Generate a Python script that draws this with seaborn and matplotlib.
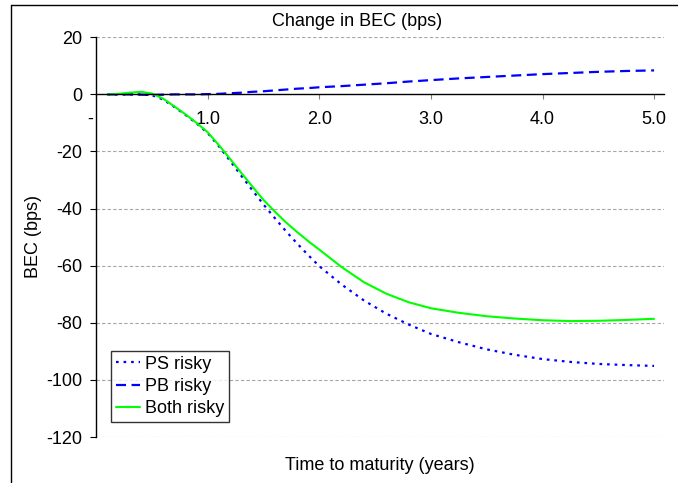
import numpy as np
import pandas as pd
import matplotlib
matplotlib.use("Agg")
import matplotlib.pyplot as plt
from matplotlib.lines import Line2D
import seaborn as sns

# data
maturity = [0.1, 0.2, 0.3, 0.4, 0.5, 0.6, 0.7, 0.8, 0.9, 1.0, 1.1, 1.2, 1.3, 1.4, 1.5,
            1.6, 1.7, 1.8, 1.9, 2.0, 2.2, 2.4, 2.6, 2.8, 3.0, 3.25, 3.5, 3.75, 4.0,
            4.25, 4.5, 4.75, 5.0]
ps_risky = [0.0, 0.0, 0.0, 0.0, -0.3, -1.8, -4.4, -7.2, -10.2, -13.6, -18.2, -23.3,
            -28.5, -33.6, -38.6, -43.3, -47.9, -52.2, -56.3, -60.2, -66.6, -72.2,
            -76.8, -80.6, -83.9, -86.8, -89.3, -91.2, -92.7, -93.7, -94.4, -94.8, -95.1]
pb_risky = [0.0, 0.0, 0.0, -0.1, -0.2, -0.1, 0.0, 0.0, 0.0, 0.1, 0.2, 0.4, 0.6, 0.9,
            1.1, 1.4, 1.7, 2.0, 2.2, 2.5, 2.9, 3.4, 3.9, 4.5, 5.0, 5.6, 6.1, 6.6, 7.1,
            7.5, 7.9, 8.2, 8.4]
both_risky = [0.0, 0.2, 0.6, 0.9, 0.3, -1.5, -4.2, -7.0, -10.0, -13.3, -17.8, -22.6,
              -27.5, -32.3, -37.0, -41.0, -44.8, -48.2, -51.4, -54.4, -60.5, -65.8,
              -69.8, -72.8, -74.9, -76.5, -77.7, -78.5, -79.1, -79.4, -79.3, -79.0, -78.6]

x_ticks = [0, 1, 2, 3, 4, 5]
x_tick_labels = ["-  ", "1.0", "2.0", "3.0", "4.0", "5.0"]
y_ticks = [20, 0, -20, -40, -60, -80, -100, -120]

sns.set_style("white")
plt.rcParams["font.family"] = ["Liberation Sans", "DejaVu Sans"]
plt.rcParams["text.color"] = "black"
plt.rcParams["xtick.color"] = "black"
plt.rcParams["ytick.color"] = "black"
fs = 13

fig = plt.figure(figsize=(6.78, 4.83), dpi=100)
ax = fig.add_axes([0.142, 0.0952, 0.979 - 0.142, 0.9228 - 0.0952])

df = pd.DataFrame({"maturity": maturity, "ps": ps_risky, "pb": pb_risky, "both": both_risky})

sns.lineplot(data=df, x="maturity", y="ps", ax=ax, color="#0000ff", lw=1.6,
             linestyle=(0, (1.2, 2.2)), label="PS risky")
sns.lineplot(data=df, x="maturity", y="pb", ax=ax, color="#0000ff", lw=1.6,
             linestyle=(0, (4.5, 2.5)), label="PB risky")
sns.lineplot(data=df, x="maturity", y="both", ax=ax, color="#00ff00", lw=1.5,
             linestyle="-", label="Both risky")

ax.set_xlim(0, 5.087)
ax.set_ylim(-120, 20)

# horizontal grid
for yv in y_ticks:
    if yv != 0:
        ax.axhline(yv, color="#a6a6a6", lw=0.8, ls=(0, (3, 2)), zorder=0)

ax.spines["top"].set_visible(False)
ax.spines["right"].set_visible(False)
ax.spines["left"].set_color("black")
ax.spines["left"].set_linewidth(1.0)
ax.spines["bottom"].set_position(("data", 0))
ax.spines["bottom"].set_color("black")
ax.spines["bottom"].set_linewidth(1.0)

ax.set_xticks(x_ticks)
ax.set_xticklabels(x_tick_labels)
ax.set_yticks(y_ticks)
ax.set_yticklabels([str(v) for v in y_ticks])
ax.tick_params(axis="x", direction="out", length=3.5, width=0.8, color="#808080",
               labelcolor="black", pad=8.5, labelsize=fs, bottom=True)
ax.tick_params(axis="y", direction="out", length=4.3, width=0.8, color="black",
               labelcolor="black", pad=6.0, labelsize=fs, left=True)

ax.set_xlabel("")
ax.set_ylabel("")
fig.text(380 / 678, 1 - 466 / 483, "Time to maturity (years)", ha="center", va="center",
         fontsize=fs, color="black")
fig.text(34 / 678, 1 - 237 / 483, "BEC (bps)", ha="center", va="center", rotation=90,
         fontsize=fs, color="black")
fig.text(357 / 678, 1 - 22 / 483, "Change in BEC (bps)", ha="center", va="center",
         fontsize=fs, color="black")

leg = ax.legend(loc="upper left", bbox_to_anchor=(0.026, 0.215), borderaxespad=0,
                frameon=True, fancybox=False, edgecolor="black", fontsize=fs,
                handlelength=1.35, handletextpad=0.3, labelspacing=0.3, borderpad=0.25)
leg.get_frame().set_linewidth(1.0)
for t in leg.get_texts():
    t.set_color("black")

# outer chart border (top and left visible)
fig.add_artist(Line2D([11 / 678, 11 / 678], [0, 1 - 5 / 483], color="black", lw=1.0,
                      transform=fig.transFigure))
fig.add_artist(Line2D([11 / 678, 1], [1 - 5 / 483, 1 - 5 / 483], color="black", lw=1.0,
                      transform=fig.transFigure))

fig.savefig("out.png", dpi=100)
